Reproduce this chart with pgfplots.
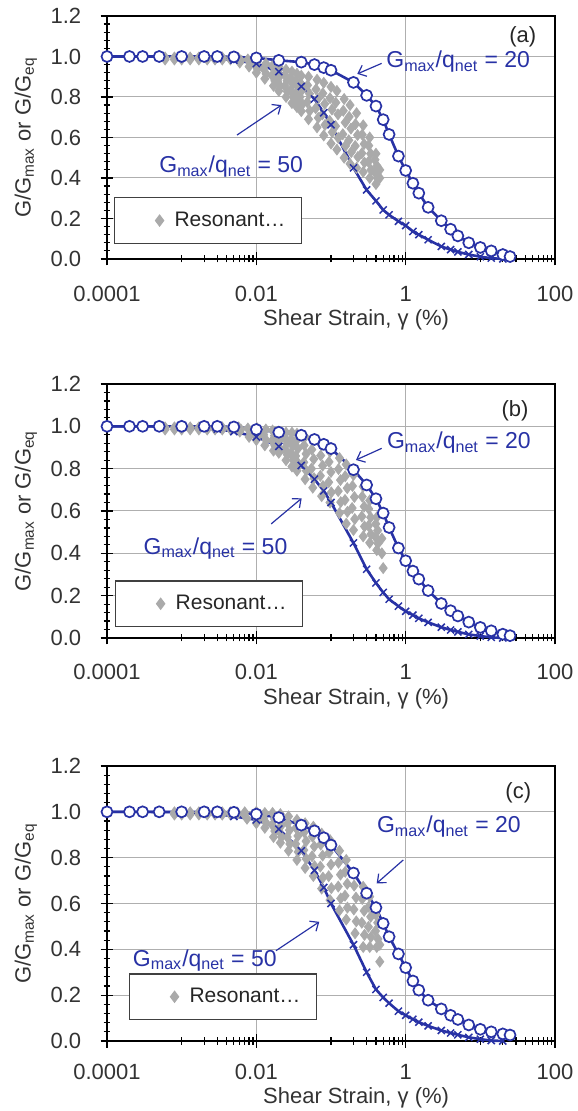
\documentclass[border=0pt]{standalone}
\usepackage{fontspec}
\setmainfont{Liberation Sans}
\usepackage{pgfplots}
\pgfplotsset{compat=1.18}
\usetikzlibrary{arrows.meta}

\definecolor{curveblue}{RGB}{40,50,165}
\definecolor{rcgray}{RGB}{170,170,170}
\definecolor{gridgray}{RGB}{175,175,175}

\newcommand\lblfont{\fontsize{11}{13}\selectfont}
\newcommand\annfont{\fontsize{11.5}{13}\selectfont}

\tikzset{arr/.style={curveblue, line width=0.6pt, -{Straight Barb[length=3.5pt,width=6pt]}}}

\begin{document}
\begin{tikzpicture}
\useasboundingbox (0,0) rectangle (288.5pt,555.5pt);

% ---------------- (a)
\begin{axis}[at={(53.5pt,426pt)}, anchor=south west,
  xmode=log, scale only axis, width=224pt, height=121.5pt,
  xmin=1e-4, xmax=100, ymin=0, ymax=1.2, clip=false,
  xtick={1e-4,1e-2,1,100}, xticklabels={0.0001,0.01,1,100},
  minor xtick={0.001,0.002,0.003,0.004,0.005,0.006,0.007,0.008,0.009,0.1,0.2,0.3,0.4,0.5,0.6,0.7,0.8,0.9,10,20,30,40,50,60,70,80,90},
  ytick={0,0.2,0.4,0.6,0.8,1.0,1.2}, minor y tick num=4,
  yticklabels={0.0,0.2,0.4,0.6,0.8,1.0,1.2},
  grid=major, major grid style={gridgray, line width=0.5pt},
  tick pos=left, tick align=center,
  major tick length=6.5pt, minor tick length=3.5pt,
  tick style={black, line width=0.6pt},
  axis line style={black, line width=0.7pt},
  ticklabel style={font=\lblfont, text=black!80},
  xticklabel style={anchor=center, inner sep=0pt, yshift=-14.25pt},
  yticklabel style={anchor=east, inner sep=0pt, xshift=-9.5pt},
  xlabel={Shear Strain, γ (\%)},
  ylabel={G/G\textsubscript{max} or G/G\textsubscript{eq}},
  xlabel style={at={(axis description cs:0.556,0)}, anchor=center, yshift=-30.5pt, font=\lblfont, text=black!80},
  ylabel style={at={(axis description cs:-0.181,0.5)}, anchor=center, font=\lblfont, text=black!80},
  legend style={at={(0.0156,0.062)}, anchor=south west, draw=black!75, line width=0.6pt, fill=white,
    font=\fontsize{10.5}{12}\selectfont, text=black!85, inner xsep=6pt, inner ysep=5pt},
  legend image code/.code={\path[draw=none, fill=none] (0pt,-2.5pt) rectangle (22pt,2.5pt);
    \draw[only marks,#1] plot coordinates {(16.5pt,0pt)};},
  legend cell align=left]
\addplot[only marks, mark=diamond*, mark size=2.7pt, rcgray, mark options={draw=rcgray, fill=rcgray}] coordinates {
(0.0006,0.995)(0.0006,0.985)(0.0008,0.995)(0.0008,0.985)(0.001,0.995)(0.001,0.985)
(0.0013,0.995)(0.0013,0.985)(0.0017,0.995)(0.0017,0.985)(0.0022,0.995)(0.0022,0.985)
(0.0028,0.995)(0.0028,0.985)(0.0035,0.995)(0.0035,0.985)(0.0045,0.995)(0.0045,0.985)
(0.006,0.97)(0.0062,0.98)(0.0058,0.99)
(0.008,0.95)(0.0083,0.967)(0.0077,0.985)
(0.01,0.92)(0.0104,0.938)(0.0096,0.957)(0.0103,0.975)
(0.013,0.89)(0.0135,0.915)(0.0125,0.94)(0.0134,0.965)
(0.017,0.855)(0.0177,0.88)(0.0163,0.905)(0.0175,0.93)(0.0165,0.955)
(0.02,0.83)(0.0208,0.854)(0.0192,0.878)(0.0206,0.902)(0.0194,0.926)(0.02,0.95)
(0.025,0.80)(0.026,0.827)(0.024,0.854)(0.0258,0.881)(0.0243,0.908)(0.025,0.935)
(0.03,0.77)(0.0312,0.801)(0.0288,0.832)(0.0309,0.863)(0.0291,0.894)(0.03,0.925)
(0.035,0.75)(0.0364,0.783)(0.0336,0.816)(0.0361,0.849)(0.034,0.882)(0.035,0.915)
(0.04,0.73)(0.0416,0.765)(0.0384,0.80)(0.0412,0.835)(0.0388,0.87)(0.04,0.905)
(0.05,0.69)(0.052,0.732)(0.048,0.774)(0.0515,0.816)(0.0485,0.858)(0.05,0.90)
(0.065,0.65)(0.0676,0.697)(0.0624,0.744)(0.067,0.791)(0.063,0.838)(0.065,0.885)
(0.08,0.61)(0.0832,0.662)(0.0768,0.714)(0.0824,0.766)(0.0776,0.818)(0.08,0.87)
(0.1,0.57)(0.104,0.626)(0.096,0.682)(0.103,0.738)(0.097,0.794)(0.1,0.85)
(0.12,0.54)(0.125,0.598)(0.115,0.656)(0.124,0.714)(0.116,0.772)(0.12,0.83)
(0.15,0.50)(0.156,0.558)(0.144,0.616)(0.155,0.674)(0.146,0.732)(0.15,0.79)
(0.18,0.47)(0.187,0.528)(0.173,0.586)(0.185,0.644)(0.175,0.702)(0.18,0.76)
(0.22,0.45)(0.229,0.504)(0.211,0.558)(0.227,0.612)(0.213,0.666)(0.22,0.72)
(0.27,0.43)(0.281,0.476)(0.259,0.522)(0.278,0.568)(0.262,0.614)(0.27,0.66)
(0.33,0.40)(0.343,0.44)(0.317,0.48)(0.34,0.52)(0.32,0.56)(0.33,0.60)
(0.4,0.37)(0.416,0.40)(0.384,0.43)(0.412,0.46)(0.388,0.49)(0.4,0.52)
(0.45,0.40)(0.45,0.44)
};
\addlegendentry{Resonant…\hspace{5pt}}
\addplot[curveblue, line width=1.3pt, mark=x, mark size=2.5pt, mark options={line width=0.75pt}, forget plot] coordinates {
(1e-4,1)(2e-4,1)(3e-4,1)(5e-4,0.999)(1e-3,0.998)(2e-3,0.995)(3e-3,0.99)(5e-3,0.982)
(0.01,0.965)(0.02,0.925)(0.04,0.852)(0.06,0.79)(0.08,0.722)(0.1,0.663)(0.2,0.45)
(0.3,0.341)(0.4,0.287)(0.5,0.242)(0.6,0.218)(0.8,0.186)(1,0.165)(1.25,0.136)
(1.5,0.12)(2,0.095)(3,0.062)(4,0.046)(5,0.035)(7,0.022)(10,0.011)(14,0.004)(20,0)
};
\addplot[curveblue, line width=1.3pt, mark=*, mark size=2.75pt, mark options={fill=white, draw=curveblue, line width=0.85pt}, forget plot] coordinates {
(1e-4,1)(2e-4,1)(3e-4,1)(5e-4,1)(1e-3,1)(2e-3,1)(3e-3,1)(5e-3,0.998)
(0.01,0.993)(0.02,0.981)(0.04,0.972)(0.06,0.96)(0.08,0.945)(0.1,0.932)(0.2,0.872)
(0.3,0.808)(0.4,0.755)(0.5,0.688)(0.6,0.615)(0.8,0.508)(1,0.437)(1.25,0.374)
(1.5,0.325)(2,0.255)(3,0.189)(4,0.147)(5,0.114)(7,0.08)(10,0.057)(14,0.04)
(20,0.022)(25,0.012)
};
\node[font=\lblfont, text=black!85] at (axis cs:37,1.096) {(a)};
\node[font=\annfont, text=curveblue, anchor=west, inner sep=0pt] at (axis cs:0.545,0.973)
  {G\textsubscript{max}/q\textsubscript{net} = 20};
\draw[arr] (axis cs:0.477,0.966) -- (axis cs:0.225,0.914);
\node[font=\annfont, text=curveblue, anchor=west, inner sep=0pt] at (axis cs:4.97e-4,0.454)
  {G\textsubscript{max}/q\textsubscript{net} = 50};
\draw[arr] (axis cs:0.00551,0.612) -- (axis cs:0.0217,0.760);
\end{axis}

% ---------------- (b)
\begin{axis}[at={(53.5pt,236.5pt)}, anchor=south west,
  xmode=log, scale only axis, width=224pt, height=127pt,
  xmin=1e-4, xmax=100, ymin=0, ymax=1.2, clip=false,
  xtick={1e-4,1e-2,1,100}, xticklabels={0.0001,0.01,1,100},
  minor xtick={0.001,0.002,0.003,0.004,0.005,0.006,0.007,0.008,0.009,0.1,0.2,0.3,0.4,0.5,0.6,0.7,0.8,0.9,10,20,30,40,50,60,70,80,90},
  ytick={0,0.2,0.4,0.6,0.8,1.0,1.2}, minor y tick num=4,
  yticklabels={0.0,0.2,0.4,0.6,0.8,1.0,1.2},
  grid=major, major grid style={gridgray, line width=0.5pt},
  tick pos=left, tick align=center,
  major tick length=6.5pt, minor tick length=3.5pt,
  tick style={black, line width=0.6pt},
  axis line style={black, line width=0.7pt},
  ticklabel style={font=\lblfont, text=black!80},
  xticklabel style={anchor=center, inner sep=0pt, yshift=-13.75pt},
  yticklabel style={anchor=east, inner sep=0pt, xshift=-9.5pt},
  xlabel={Shear Strain, γ (\%)},
  ylabel={G/G\textsubscript{max} or G/G\textsubscript{eq}},
  xlabel style={at={(axis description cs:0.556,0)}, anchor=center, yshift=-30.5pt, font=\lblfont, text=black!80},
  ylabel style={at={(axis description cs:-0.181,0.5)}, anchor=center, font=\lblfont, text=black!80},
  legend style={at={(0.018,0.043)}, anchor=south west, draw=black!75, line width=0.6pt, fill=white,
    font=\fontsize{10.5}{12}\selectfont, text=black!85, inner xsep=6pt, inner ysep=5pt},
  legend image code/.code={\path[draw=none, fill=none] (0pt,-2.5pt) rectangle (22pt,2.5pt);
    \draw[only marks,#1] plot coordinates {(16.5pt,0pt)};},
  legend cell align=left]
\addplot[only marks, mark=diamond*, mark size=2.7pt, rcgray, mark options={draw=rcgray, fill=rcgray}] coordinates {
(0.0006,0.995)(0.0006,0.985)(0.0008,0.995)(0.0008,0.985)(0.001,0.995)(0.001,0.985)
(0.0013,0.995)(0.0013,0.985)(0.0017,0.995)(0.0017,0.985)(0.0022,0.995)(0.0022,0.985)
(0.0028,0.995)(0.0028,0.985)(0.0035,0.995)(0.0035,0.985)(0.0045,0.995)(0.0045,0.985)
(0.006,0.975)(0.0062,0.985)(0.0058,0.995)
(0.008,0.95)(0.0083,0.97)(0.0077,0.99)
(0.01,0.935)(0.0104,0.953)(0.0096,0.972)(0.0103,0.99)
(0.013,0.91)(0.0135,0.935)(0.0125,0.96)(0.0134,0.985)
(0.017,0.885)(0.0177,0.909)(0.0163,0.932)(0.0175,0.956)(0.0165,0.98)
(0.02,0.875)(0.0208,0.895)(0.0192,0.915)(0.0206,0.935)(0.0194,0.955)(0.02,0.975)
(0.025,0.84)(0.026,0.866)(0.024,0.892)(0.0258,0.918)(0.0243,0.944)(0.025,0.97)
(0.03,0.81)(0.0312,0.842)(0.0288,0.874)(0.0309,0.906)(0.0291,0.938)(0.03,0.97)
(0.035,0.79)(0.0364,0.825)(0.0336,0.86)(0.0361,0.895)(0.034,0.93)(0.035,0.965)
(0.045,0.75)(0.0468,0.79)(0.0432,0.83)(0.0464,0.87)(0.0437,0.91)(0.045,0.95)
(0.057,0.71)(0.0593,0.755)(0.0547,0.80)(0.0587,0.845)(0.0553,0.89)(0.057,0.935)
(0.075,0.67)(0.078,0.718)(0.072,0.766)(0.0773,0.814)(0.0728,0.862)(0.075,0.91)
(0.097,0.64)(0.101,0.688)(0.0931,0.736)(0.0999,0.784)(0.0941,0.832)(0.097,0.88)
(0.13,0.59)(0.135,0.642)(0.125,0.694)(0.134,0.746)(0.126,0.798)(0.13,0.85)
(0.16,0.54)(0.166,0.596)(0.154,0.652)(0.165,0.708)(0.155,0.764)(0.16,0.82)
(0.2,0.51)(0.208,0.562)(0.192,0.614)(0.206,0.666)(0.194,0.718)(0.2,0.77)
(0.27,0.48)(0.281,0.527)(0.259,0.574)(0.278,0.621)(0.262,0.668)(0.27,0.715)
(0.33,0.45)(0.343,0.49)(0.317,0.53)(0.34,0.57)(0.32,0.61)(0.33,0.65)
(0.41,0.415)(0.426,0.446)(0.394,0.477)(0.422,0.508)(0.398,0.539)(0.41,0.57)
(0.48,0.40)(0.48,0.47)(0.5,0.33)
};
\addlegendentry{Resonant…\hspace{5pt}}
\addplot[curveblue, line width=1.3pt, mark=x, mark size=2.5pt, mark options={line width=0.75pt}, forget plot] coordinates {
(1e-4,1)(2e-4,1)(3e-4,1)(5e-4,0.999)(1e-3,0.997)(2e-3,0.993)(3e-3,0.987)(5e-3,0.975)
(0.01,0.95)(0.02,0.905)(0.04,0.815)(0.06,0.75)(0.08,0.695)(0.1,0.64)(0.2,0.449)
(0.3,0.325)(0.4,0.26)(0.5,0.215)(0.6,0.183)(0.8,0.15)(1,0.126)(1.25,0.108)
(1.5,0.093)(2,0.074)(3,0.051)(4,0.038)(5,0.029)(7,0.017)(10,0.009)(14,0.003)(20,0)
};
\addplot[curveblue, line width=1.3pt, mark=*, mark size=2.75pt, mark options={fill=white, draw=curveblue, line width=0.85pt}, forget plot] coordinates {
(1e-4,1)(2e-4,1)(3e-4,1)(5e-4,1)(1e-3,1)(2e-3,1)(3e-3,1)(5e-3,0.997)
(0.01,0.985)(0.02,0.972)(0.04,0.958)(0.06,0.938)(0.08,0.915)(0.1,0.895)(0.2,0.795)
(0.3,0.723)(0.4,0.658)(0.5,0.59)(0.6,0.522)(0.8,0.425)(1,0.365)(1.25,0.316)
(1.5,0.278)(2,0.224)(3,0.163)(4,0.129)(5,0.104)(7,0.075)(10,0.05)(14,0.034)
(20,0.018)(25,0.011)
};
\node[font=\lblfont, text=black!85] at (axis cs:29.1,1.074) {(b)};
\node[font=\annfont, text=curveblue, anchor=west, inner sep=0pt] at (axis cs:0.557,0.921)
  {G\textsubscript{max}/q\textsubscript{net} = 20};
\draw[arr] (axis cs:0.478,0.896) -- (axis cs:0.216,0.841);
\node[font=\annfont, text=curveblue, anchor=west, inner sep=0pt] at (axis cs:3.06e-4,0.424)
  {G\textsubscript{max}/q\textsubscript{net} = 50};
\draw[arr] (axis cs:0.0158,0.539) -- (axis cs:0.0405,0.660);
\end{axis}

% ---------------- (c)
\begin{axis}[at={(53.5pt,35pt)}, anchor=south west,
  xmode=log, scale only axis, width=224pt, height=137.5pt,
  xmin=1e-4, xmax=100, ymin=0, ymax=1.2, clip=false,
  xtick={1e-4,1e-2,1,100}, xticklabels={0.0001,0.01,1,100},
  minor xtick={0.001,0.002,0.003,0.004,0.005,0.006,0.007,0.008,0.009,0.1,0.2,0.3,0.4,0.5,0.6,0.7,0.8,0.9,10,20,30,40,50,60,70,80,90},
  ytick={0,0.2,0.4,0.6,0.8,1.0,1.2}, minor y tick num=4,
  yticklabels={0.0,0.2,0.4,0.6,0.8,1.0,1.2},
  grid=major, major grid style={gridgray, line width=0.5pt},
  tick pos=left, tick align=center,
  major tick length=6.5pt, minor tick length=3.5pt,
  tick style={black, line width=0.6pt},
  axis line style={black, line width=0.7pt},
  ticklabel style={font=\lblfont, text=black!80},
  xticklabel style={anchor=center, inner sep=0pt, yshift=-12.25pt},
  yticklabel style={anchor=east, inner sep=0pt, xshift=-9.5pt},
  xlabel={Shear Strain, γ (\%)},
  ylabel={G/G\textsubscript{max} or G/G\textsubscript{eq}},
  xlabel style={at={(axis description cs:0.556,0)}, anchor=center, yshift=-28.25pt, font=\lblfont, text=black!80},
  ylabel style={at={(axis description cs:-0.181,0.5)}, anchor=center, font=\lblfont, text=black!80},
  legend style={at={(0.049,0.076)}, anchor=south west, draw=black!75, line width=0.6pt, fill=white,
    font=\fontsize{10.5}{12}\selectfont, text=black!85, inner xsep=6pt, inner ysep=5pt},
  legend image code/.code={\path[draw=none, fill=none] (0pt,-2.5pt) rectangle (22pt,2.5pt);
    \draw[only marks,#1] plot coordinates {(16.5pt,0pt)};},
  legend cell align=left]
\addplot[only marks, mark=diamond*, mark size=2.7pt, rcgray, mark options={draw=rcgray, fill=rcgray}] coordinates {
(0.0008,0.998)(0.0008,0.988)(0.001,0.998)(0.001,0.988)(0.0013,0.998)(0.0013,0.988)
(0.0017,0.998)(0.0017,0.988)(0.0022,0.998)(0.0022,0.988)(0.0028,0.998)(0.0028,0.988)
(0.0035,0.998)(0.0035,0.988)(0.0045,0.998)(0.0045,0.988)(0.0055,0.998)(0.0055,0.988)
(0.007,0.998)(0.007,0.985)(0.0075,0.97)
(0.01,0.95)(0.0104,0.967)(0.0096,0.983)(0.01,1.0)
(0.013,0.93)(0.0135,0.952)(0.0125,0.973)(0.013,0.995)
(0.017,0.89)(0.0177,0.916)(0.0163,0.943)(0.0175,0.969)(0.0165,0.995)
(0.021,0.865)(0.0218,0.89)(0.0202,0.915)(0.0216,0.94)(0.0204,0.965)(0.021,0.99)
(0.027,0.83)(0.0281,0.86)(0.0259,0.89)(0.0278,0.92)(0.0262,0.95)(0.027,0.98)
(0.035,0.79)(0.0364,0.825)(0.0336,0.86)(0.0361,0.895)(0.034,0.93)(0.035,0.965)
(0.045,0.755)(0.0468,0.794)(0.0432,0.833)(0.0464,0.872)(0.0437,0.911)(0.045,0.95)
(0.058,0.72)(0.0603,0.763)(0.0557,0.806)(0.0597,0.849)(0.0563,0.892)(0.058,0.935)
(0.075,0.665)(0.078,0.713)(0.072,0.761)(0.0773,0.809)(0.0728,0.857)(0.075,0.905)
(0.097,0.615)(0.101,0.667)(0.0931,0.719)(0.0999,0.77)(0.0941,0.822)(0.097,0.877)
(0.13,0.57)(0.135,0.622)(0.125,0.674)(0.134,0.726)(0.126,0.778)(0.13,0.83)
(0.16,0.53)(0.166,0.582)(0.154,0.634)(0.165,0.686)(0.155,0.738)(0.16,0.79)
(0.21,0.47)(0.218,0.522)(0.202,0.574)(0.216,0.626)(0.204,0.678)(0.21,0.73)
(0.27,0.41)(0.281,0.463)(0.259,0.516)(0.278,0.568)(0.262,0.62)(0.27,0.673)
(0.33,0.41)(0.343,0.454)(0.317,0.498)(0.34,0.542)(0.32,0.586)(0.33,0.63)
(0.41,0.41)(0.426,0.445)(0.394,0.48)(0.422,0.516)(0.398,0.551)(0.41,0.586)
(0.45,0.346)(0.45,0.42)
};
\addlegendentry{Resonant…\hspace{5pt}}
\addplot[curveblue, line width=1.3pt, mark=x, mark size=2.5pt, mark options={line width=0.75pt}, forget plot] coordinates {
(1e-4,1)(2e-4,1)(3e-4,1)(5e-4,0.999)(1e-3,0.998)(2e-3,0.995)(3e-3,0.99)(5e-3,0.98)
(0.01,0.965)(0.02,0.925)(0.04,0.83)(0.06,0.745)(0.08,0.67)(0.1,0.60)(0.2,0.42)
(0.3,0.30)(0.4,0.225)(0.5,0.19)(0.6,0.165)(0.8,0.13)(1,0.112)(1.25,0.095)
(1.5,0.082)(2,0.066)(3,0.046)(4,0.035)(5,0.027)(7,0.016)(10,0.008)(14,0.002)(20,0)
};
\addplot[curveblue, line width=1.3pt, mark=*, mark size=2.75pt, mark options={fill=white, draw=curveblue, line width=0.85pt}, forget plot] coordinates {
(1e-4,1)(2e-4,1)(3e-4,1)(5e-4,1)(1e-3,1)(2e-3,1)(3e-3,1)(5e-3,0.998)
(0.01,0.99)(0.02,0.975)(0.04,0.942)(0.06,0.917)(0.08,0.887)(0.1,0.855)(0.2,0.733)
(0.3,0.645)(0.4,0.582)(0.5,0.513)(0.6,0.455)(0.8,0.38)(1,0.32)(1.25,0.262)
(1.5,0.222)(2,0.178)(3,0.14)(4,0.112)(5,0.094)(7,0.07)(10,0.051)(14,0.04)
(20,0.031)(25,0.026)
};
\node[font=\lblfont, text=black!85] at (axis cs:32.2,1.081) {(c)};
\node[font=\annfont, text=curveblue, anchor=west, inner sep=0pt] at (axis cs:0.409,0.935)
  {G\textsubscript{max}/q\textsubscript{net} = 20};
\draw[arr] (axis cs:0.929,0.790) -- (axis cs:0.409,0.688);
\node[font=\annfont, text=curveblue, anchor=west, inner sep=0pt] at (axis cs:2.2e-4,0.353)
  {G\textsubscript{max}/q\textsubscript{net} = 50};
\draw[arr] (axis cs:0.0183,0.394) -- (axis cs:0.0697,0.520);
\end{axis}
\end{tikzpicture}
\end{document}
